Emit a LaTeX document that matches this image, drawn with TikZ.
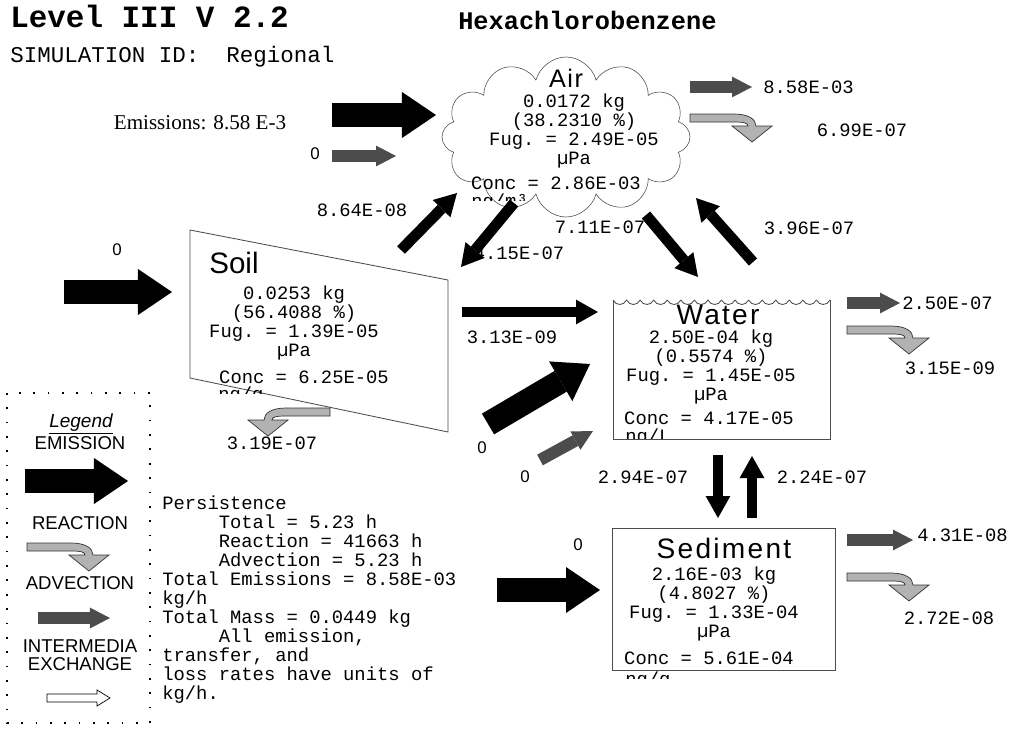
\documentclass[tikz,border=0pt]{standalone}
\usepackage{fontspec}
\setmainfont{Liberation Serif}
\setsansfont{Liberation Sans}
\setmonofont{Liberation Mono}
\usetikzlibrary{arrows.meta,shapes.symbols}

\tikzset{
  emis/.style={line width=0.6cm,-{Triangle[width=1.15cm,length=0.85cm,line width=0pt]}},
  xch/.style={line width=0.27cm,-{Triangle[width=0.62cm,length=0.55cm,line width=0pt]}},
  adv/.style={black!70,line width=0.3cm,-{Triangle[width=0.52cm,length=0.5cm,line width=0pt]}},
  wall/.style={draw=black!70,line width=0.6pt},
  val/.style={inner sep=0pt,font=\ttfamily\fontsize{13.4}{13.7}\selectfont},
  blk/.style={val,align=center},
  zero/.style={inner sep=0pt,font=\sffamily\fontsize{12}{12}\selectfont},
  cname/.style={inner sep=0pt,font=\sffamily\fontsize{20}{20}\selectfont\addfontfeature{LetterSpace=8}},
  leg/.style={inner sep=0pt,font=\sffamily\fontsize{13.2}{12.6}\selectfont,align=center},
  rxn/.pic={\filldraw[draw=black!80,fill=black!30,line width=0.5pt](0,-4)--(44,-4) .. controls (58,-4) and (66,1) .. (66,8)--(82,8)--(62,24)--(42,8)--(58,8) .. controls (58,5) and (54,4) .. (44,4)--(0,4)--cycle;}
}

\begin{document}
\begin{tikzpicture}[x=0.025cm,y=-0.025cm]
    \useasboundingbox(0,0)rectangle(1011,729);
    \fill[white](0,0)rectangle(1011,729);

    \node[anchor=base west,inner sep=0pt,font=\ttfamily\bfseries\fontsize{22}{22}\selectfont](lvl)at(10,28){Level III V 2.2};
    \node[anchor=base west,inner sep=0pt,font=\ttfamily\fontsize{16}{16}\selectfont](simid)at(10,63){SIMULATION ID:\ \ Regional};
    \node[anchor=base west,inner sep=0pt,font=\ttfamily\bfseries\fontsize{18}{18}\selectfont](chem)at(458,30){Hexachlorobenzene};

    % air
    \node[cloud,cloud puffs=12,cloud ignores aspect,draw=black!70,fill=white,minimum width=6.2cm,minimum height=4.0cm](air)at(566,137){};
    \node[cname,font=\sffamily\fontsize{18}{18}\selectfont\addfontfeature{LetterSpace=6}](airname)at(566,78){Air};
    \node[blk](airdat)at(574,131){0.0172 kg\\(38.2310 \%)\\Fug. = 2.49E-05\\µPa};
    \node[val](airconc)at(556,183){Conc = 2.86E-03};
    \begin{scope}
        \clip(440,190)rectangle(720,200);
        \node[val,anchor=north west](airunit)at(471,194){ng/m³};
    \end{scope}

    % soil
    \draw[wall](190,230)--(448,280)--(448,432)--(190,378)--cycle;
    \node[cname,font=\sffamily\fontsize{21}{21}\selectfont](soilname)at(234,263){Soil};
    \node[blk](soildat)at(294,323){0.0253 kg\\(56.4088 \%)\\Fug. = 1.39E-05\\µPa};
    \node[val](soilconc)at(304,377){Conc = 6.25E-05};
    \begin{scope}
        \clip(200,386)rectangle(300,393);
        \node[val,anchor=north west](soilunit)at(218,387){ng/g};
    \end{scope}

    % water
    \draw[wall](613,300)--(613,439)--(830,439)--(830,300);
    \foreach \i in {0,...,15}
        \draw[wall](613+\i*13.5625,300) .. controls +(3,6) and +(-3,6) .. +(13.5625,0);
    \node[cname](watername)at(718,315){Water};
    \node[blk](waterdat)at(711,367){2.50E-04 kg\\(0.5574 \%)\\Fug. = 1.45E-05\\µPa};
    \node[val](waterconc)at(709,418){Conc = 4.17E-05};
    \begin{scope}
        \clip(615,428)rectangle(700,438);
        \node[val,anchor=north west](waterunit)at(625,429){ng/L};
    \end{scope}

    % sediment
    \draw[wall](612,528)rectangle(835,670);
    \node[cname](sedname)at(724,548){Sediment};
    \node[blk](seddat)at(714,604){2.16E-03 kg\\(4.8027 \%)\\Fug. = 1.33E-04\\µPa};
    \node[val](sedconc)at(709,658){Conc = 5.61E-04};
    \begin{scope}
        \clip(615,671)rectangle(700,678);
        \node[val,anchor=north west](sedunit)at(625,672){ng/g};
    \end{scope}

    % arrow ends
    \coordinate(ea0)at(332,115);\coordinate(ea1)at(436,115);
    \coordinate(aa0)at(332,156);\coordinate(aa1)at(396,156);
    \coordinate(es0)at(64,292);\coordinate(es1)at(172,292);
    \coordinate(ew0)at(488,424);\coordinate(ew1)at(590,364);
    \coordinate(aw0)at(540,460);\coordinate(aw1)at(593,431);
    \coordinate(ed0)at(497,590);\coordinate(ed1)at(600,590);
    \coordinate(sa0)at(401,250);\coordinate(sa1)at(457,193);
    \coordinate(as0)at(514,203);\coordinate(as1)at(461,267);
    \coordinate(aw2)at(646,215);\coordinate(aw3)at(698,277);
    \coordinate(wa0)at(753,262);\coordinate(wa1)at(696,198);
    \coordinate(sw0)at(462,312);\coordinate(sw1)at(598,312);
    \coordinate(ws0)at(718,455);\coordinate(ws1)at(718,518);
    \coordinate(sd0)at(752,518);\coordinate(sd1)at(752,456);
    \coordinate(ao0)at(690,87);\coordinate(ao1)at(752,87);
    \coordinate(wo0)at(847,303);\coordinate(wo1)at(900,303);
    \coordinate(so0)at(847,540);\coordinate(so1)at(913,540);

    % inputs
    \draw[emis](ea0)--(ea1);
    \node[inner sep=0pt,font=\rmfamily\fontsize{15}{15}\selectfont](emtxt)at(200,123){Emissions: 8.58 E-3};
    \draw[adv](aa0)--(aa1);
    \node[zero](z1)at(315,154){0};
    \draw[emis](es0)--(es1);
    \node[zero](z2)at(117,250){0};
    \draw[emis](ew0)--(ew1);
    \node[zero](z3)at(482,448){0};
    \draw[adv](aw0)--(aw1);
    \node[zero](z4)at(525,477){0};
    \draw[emis](ed0)--(ed1);
    \node[zero](z5)at(578,545){0};

    % intermedia
    \draw[xch](sa0)--(sa1);
    \node[val](lsa)at(362,210){8.64E-08};
    \draw[xch](as0)--(as1);
    \node[val](las)at(519,253){4.15E-07};
    \draw[xch](aw2)--(aw3);
    \node[val](law)at(600,227){7.11E-07};
    \draw[xch](wa0)--(wa1);
    \node[val](lwa)at(809,228){3.96E-07};
    \draw[xch](sw0)--(sw1);
    \node[val](lsw)at(512,337){3.13E-09};
    \draw[xch](ws0)--(ws1);
    \node[val](lws)at(643,477){2.94E-07};
    \draw[xch](sd0)--(sd1);
    \node[val](lsd)at(822,477){2.24E-07};

    % losses
    \draw[adv](ao0)--(ao1);
    \node[val,anchor=west](lao)at(763,87){8.58E-03};
    \pic at(690,118){rxn};
    \node[val](lar)at(862,130){6.99E-07};
    \pic[xscale=-1] at(330,412){rxn};
    \node[val](lsr)at(272,443){3.19E-07};
    \draw[adv](wo0)--(wo1);
    \node[val,anchor=west](lwo)at(902,303){2.50E-07};
    \pic at(847,330){rxn};
    \node[val](lwr)at(950,368){3.15E-09};
    \draw[adv](so0)--(so1);
    \node[val,anchor=west](lso)at(917,535){4.31E-08};
    \pic at(847,577){rxn};
    \node[val](lsr2)at(949,618){2.72E-08};

    % legend
    \draw[dash pattern=on 1.2pt off 9pt,line width=1.3pt](7,393)rectangle(150,723);
    \node[leg,font=\sffamily\itshape\fontsize{13.5}{13.5}\selectfont](legtitle)at(81,424){\underline{Legend}};
    \node[leg](lgemis)at(80,443){EMISSION};
    \coordinate(lg0)at(25,481);\coordinate(lg1)at(128,481);
    \draw[emis](lg0)--(lg1);
    \node[leg](lgrxn)at(80,523){REACTION};
    \pic at(27,547){rxn};
    \node[leg](lgadv)at(80,583){ADVECTION};
    \coordinate(lg2)at(38,618);\coordinate(lg3)at(110,618);
    \draw[adv](lg2)--(lg3);
    \node[leg](lgxch)at(80,655){INTERMEDIA\\EXCHANGE};
    \draw[fill=white,line width=0.5pt](47,694)--(97,694)--(97,690)--(110,698)--(97,706)--(97,702)--(47,702)--cycle;

    % persistence
    \node[val,align=left,anchor=north west,font=\ttfamily\fontsize{13.4}{13.5}\selectfont](pers)at(162,496){Persistence\\\hspace*{3em}Total = 5.23 h\\\hspace*{3em}Reaction = 41663 h\\\hspace*{3em}Advection = 5.23 h\\Total Emissions = 8.58E-03\\kg/h\\Total Mass = 0.0449 kg\\\hspace*{3em}All emission,\\transfer, and\\loss rates have units of\\kg/h.};
\end{tikzpicture}
\end{document}
